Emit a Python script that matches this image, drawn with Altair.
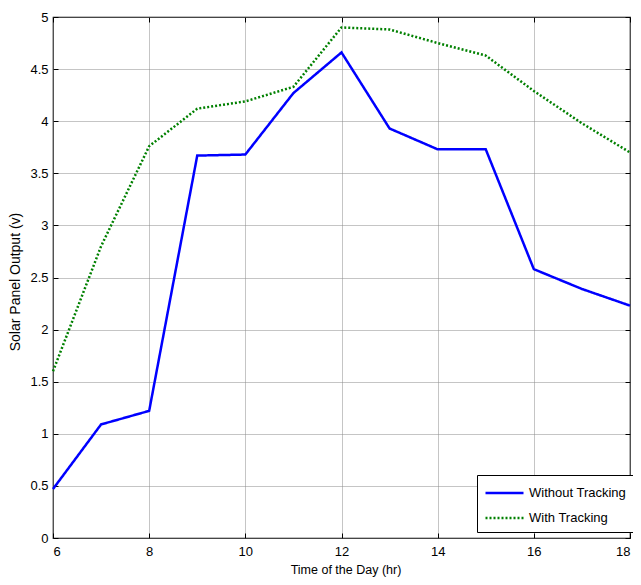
import altair as alt
import pandas as pd

hours = [6, 7, 8, 9, 10, 11, 12, 13, 14, 15, 16, 17, 18]
without_tracking = [0.47, 1.09, 1.22, 3.67, 3.68, 4.27, 4.66, 3.93, 3.73, 3.73, 2.58, 2.39, 2.23]
with_tracking = [1.60, 2.80, 3.76, 4.12, 4.19, 4.33, 4.90, 4.88, 4.75, 4.63, 4.29, 3.98, 3.70]
series_names = ["Without Tracking", "With Tracking"]
x_ticks = [6, 8, 10, 12, 14, 16, 18]
y_ticks = [0, 0.5, 1, 1.5, 2, 2.5, 3, 3.5, 4, 4.5, 5]

rows = []
for h, a, b in zip(hours, without_tracking, with_tracking):
    rows.append({"hour": h, "value": a, "series": series_names[0]})
    rows.append({"hour": h, "value": b, "series": series_names[1]})
df = pd.DataFrame(rows)

W, H = 577, 521
FONT = "Liberation Sans, Arial, sans-serif"

xscale = alt.Scale(domain=[6, 18], nice=False, zero=False)
yscale = alt.Scale(domain=[0, 5], nice=False)

main_x_axis = alt.Axis(
    orient="bottom", values=x_ticks, format="d", grid=True, gridColor="#8a8a8a",
    gridDash=[1, 1], gridWidth=1, ticks=False, domain=False, labelFont=FONT,
    labelFontSize=13, labelColor="black", labelPadding=7, title="Time of the Day (hr)",
    titleFont=FONT, titleFontSize=12.5, titleFontWeight="normal", titleColor="black",
    titleX=W / 2 + 4, titleY=25, titleBaseline="top",
)
main_y_axis = alt.Axis(
    orient="left", values=y_ticks, format=".1~f", grid=True, gridColor="#8a8a8a",
    gridDash=[1, 1], gridWidth=1, ticks=False, domain=False, labelFont=FONT,
    labelFontSize=13, labelColor="black", labelPadding=5, title="Solar Panel Output (v)",
    titleFont=FONT, titleFontSize=14, titleFontWeight="normal", titleColor="black",
    titleX=-31, titleY=H / 2 + 4, titleAngle=270, titleBaseline="bottom", titleAlign="center",
)

legend_cfg = dict(
    title=None, orient="none", legendX=W - 153, legendY=H - 63,
    fillColor="white", strokeColor="black", padding=7,
    symbolType="M-2,0H2", symbolSize=361, symbolStrokeWidth=2.5,
    symbolOffset=9.5, labelOffset=13.5,
    labelFont=FONT, labelFontSize=13, labelColor="black",
    rowPadding=7, labelLimit=200,
)

lines = alt.Chart(df).mark_line(strokeWidth=2.5).encode(
    x=alt.X("hour:Q", scale=xscale, axis=main_x_axis),
    y=alt.Y("value:Q", scale=yscale, axis=main_y_axis),
    color=alt.Color(
        "series:N",
        scale=alt.Scale(domain=series_names, range=["#0000ff", "#008000"]),
        legend=alt.Legend(**legend_cfg),
    ),
    strokeDash=alt.StrokeDash(
        "series:N",
        scale=alt.Scale(domain=series_names, range=[[1, 0], [2, 2]]),
        legend=alt.Legend(**legend_cfg),
    ),
    detail="series:N",
)

def tick_axis(orient, vals, offset):
    return alt.Axis(orient=orient, values=vals, offset=offset, labels=False,
                    grid=False, domain=False, ticks=True, tickSize=5,
                    tickColor="black", tickWidth=1, title=None)

ticks_a = alt.Chart(df).mark_line(opacity=0).encode(
    x=alt.X("hour:Q", scale=xscale, axis=tick_axis("top", x_ticks, -H)),
    y=alt.Y("value:Q", scale=yscale, axis=tick_axis("right", y_ticks, -W)),
    detail="series:N",
)
ticks_b = alt.Chart(df).mark_line(opacity=0).encode(
    x=alt.X("hour:Q", scale=xscale, axis=tick_axis("bottom", x_ticks, -H)),
    y=alt.Y("value:Q", scale=yscale, axis=tick_axis("left", y_ticks, -W)),
    detail="series:N",
)

chart = alt.layer(ticks_a, ticks_b, lines).resolve_axis(
    x="independent", y="independent"
).properties(
    width=W, height=H,
    autosize=alt.AutoSizeParams(type="none"),
    padding={"left": 45, "top": 9, "right": 3, "bottom": 39},
    background="white",
).configure_view(stroke="black", strokeWidth=1.2)

chart.save("out.html", embed_options={"renderer": "svg", "actions": False})
